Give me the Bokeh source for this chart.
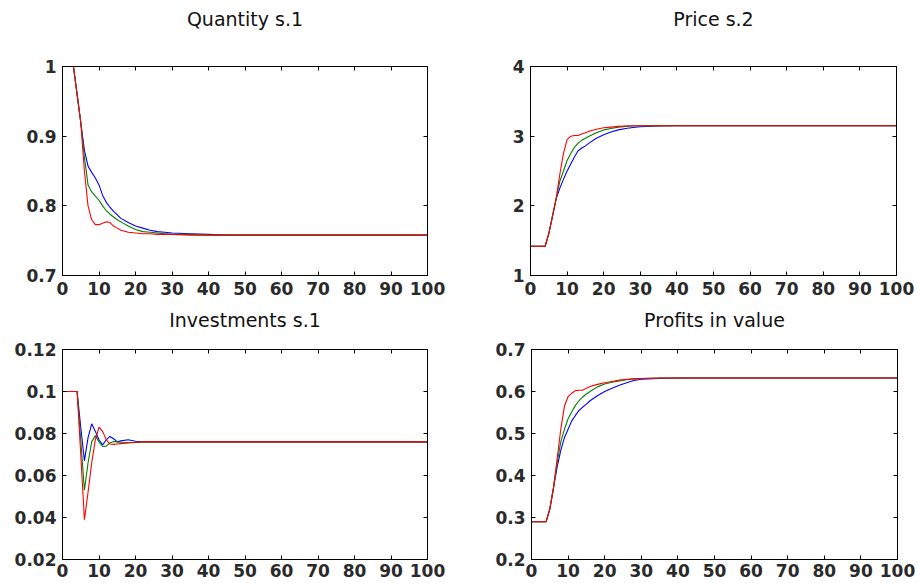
from bokeh.plotting import figure
from bokeh.layouts import column, row
from bokeh.models import Range1d, FixedTicker, LinearAxis
from bokeh.embed import file_html
from bokeh.resources import INLINE

# ---------------- data ----------------
t = [0, 1, 2, 3, 4, 5, 6, 7, 8, 9, 10, 11, 12, 13, 14, 15, 16, 18, 20, 22, 24, 26, 28, 30, 35, 40, 45, 50, 100]

qty_blue = [1, 1, 1, 1, 0.96, 0.92, 0.88, 0.857, 0.848, 0.840, 0.830, 0.815, 0.805, 0.798, 0.792, 0.787, 0.782,
            0.776, 0.771, 0.768, 0.765, 0.763, 0.762, 0.761, 0.760, 0.759, 0.758, 0.758, 0.758]
qty_green = [1, 1, 1, 1, 0.96, 0.92, 0.87, 0.83, 0.82, 0.814, 0.808, 0.800, 0.793, 0.788, 0.784, 0.780, 0.777,
             0.771, 0.766, 0.763, 0.762, 0.761, 0.760, 0.759, 0.759, 0.758, 0.758, 0.758, 0.758]
qty_red = [1, 1, 1, 1, 0.96, 0.92, 0.85, 0.80, 0.78, 0.773, 0.773, 0.775, 0.777, 0.776, 0.771, 0.768, 0.765,
           0.762, 0.761, 0.760, 0.760, 0.759, 0.759, 0.759, 0.758, 0.758, 0.758, 0.758, 0.758]

price_blue = [1.42, 1.42, 1.42, 1.42, 1.42, 1.6, 1.85, 2.1, 2.25, 2.38, 2.5, 2.6, 2.7, 2.79, 2.83, 2.86, 2.9,
              2.97, 3.02, 3.06, 3.09, 3.11, 3.125, 3.135, 3.145, 3.15, 3.15, 3.15, 3.15]
price_green = [1.42, 1.42, 1.42, 1.42, 1.42, 1.6, 1.85, 2.1, 2.35, 2.5, 2.65, 2.75, 2.84, 2.9, 2.94, 2.97, 3.0,
               3.05, 3.09, 3.11, 3.13, 3.14, 3.145, 3.15, 3.15, 3.15, 3.15, 3.15, 3.15]
price_red = [1.42, 1.42, 1.42, 1.42, 1.42, 1.6, 1.85, 2.1, 2.45, 2.75, 2.95, 3.0, 3.01, 3.01, 3.03, 3.05, 3.07,
             3.1, 3.12, 3.13, 3.14, 3.145, 3.15, 3.15, 3.15, 3.15, 3.15, 3.15, 3.15]

inv_blue = [0.1, 0.1, 0.1, 0.1, 0.1, 0.083, 0.067, 0.078, 0.0846, 0.081, 0.077, 0.0746, 0.077, 0.0786, 0.0775,
            0.076, 0.0765, 0.077, 0.0763, 0.076, 0.076, 0.076, 0.076, 0.076, 0.076, 0.076, 0.076, 0.076, 0.076]
inv_green = [0.1, 0.1, 0.1, 0.1, 0.1, 0.077, 0.053, 0.066, 0.076, 0.079, 0.076, 0.0738, 0.074, 0.0755, 0.0762,
             0.076, 0.0758, 0.0757, 0.0757, 0.076, 0.076, 0.076, 0.076, 0.076, 0.076, 0.076, 0.076, 0.076, 0.076]
inv_red = [0.1, 0.1, 0.1, 0.1, 0.1, 0.07, 0.039, 0.052, 0.066, 0.077, 0.083, 0.081, 0.077, 0.075, 0.0748,
           0.075, 0.0752, 0.0755, 0.0757, 0.076, 0.076, 0.076, 0.076, 0.076, 0.076, 0.076, 0.076, 0.076, 0.076]

prof_blue = [0.29, 0.29, 0.29, 0.29, 0.29, 0.32, 0.37, 0.42, 0.46, 0.49, 0.51, 0.53, 0.543, 0.555, 0.563, 0.57,
             0.578, 0.59, 0.60, 0.608, 0.615, 0.621, 0.626, 0.629, 0.631, 0.632, 0.632, 0.632, 0.632]
prof_green = [0.29, 0.29, 0.29, 0.29, 0.29, 0.32, 0.37, 0.43, 0.48, 0.51, 0.535, 0.552, 0.567, 0.578, 0.587, 0.594,
              0.60, 0.611, 0.618, 0.622, 0.625, 0.628, 0.63, 0.631, 0.632, 0.632, 0.632, 0.632, 0.632]
prof_red = [0.29, 0.29, 0.29, 0.29, 0.29, 0.32, 0.37, 0.44, 0.51, 0.565, 0.588, 0.596, 0.602, 0.603, 0.603, 0.608,
            0.612, 0.617, 0.621, 0.624, 0.627, 0.629, 0.63, 0.631, 0.632, 0.632, 0.632, 0.632, 0.632]

x_ticks = [0, 10, 20, 30, 40, 50, 60, 70, 80, 90, 100]
x_labels = ["0", "10", "20", "30", "40", "50", "60", "70", "80", "90", "100"]

qty_ticks = [0.7, 0.8, 0.9, 1.0]
qty_labels = ["0.7", "0.8", "0.9", "1"]
price_ticks = [1, 2, 3, 4]
price_labels = ["1", "2", "3", "4"]
inv_ticks = [0.02, 0.04, 0.06, 0.08, 0.1, 0.12]
inv_labels = ["0.02", "0.04", "0.06", "0.08", "0.1", "0.12"]
prof_ticks = [0.2, 0.3, 0.4, 0.5, 0.6, 0.7]
prof_labels = ["0.2", "0.3", "0.4", "0.5", "0.6", "0.7"]

titles = ["Quantity s.1", "Price s.2", "Investments s.1", "Profits in value"]

COLORS = ["#0000ff", "#008000", "#ff0000"]
FONT = "DejaVu Sans"


def make_panel(title, series, yr, yticks, ylabels, width, height, bl, br, bt, bb, tstand, xstand):
    p = figure(width=width, height=height, output_backend="svg", toolbar_location=None,
               x_range=Range1d(0, 100), y_range=Range1d(*yr),
               min_border_left=bl, min_border_right=br, min_border_top=bt, min_border_bottom=bb)
    p.xgrid.visible = False
    p.ygrid.visible = False
    p.outline_line_color = "black"
    p.outline_line_width = 1
    p.background_fill_color = "white"
    p.border_fill_color = "white"

    for s, c in zip(series, COLORS):
        p.line(t, s, line_color=c, line_width=1.1)

    xt = FixedTicker(ticks=x_ticks)
    yt = FixedTicker(ticks=yticks)
    for ax in p.xaxis:
        ax.ticker = xt
        ax.major_label_overrides = dict(zip(x_ticks, x_labels))
        ax.major_label_standoff = xstand
    for ax in p.yaxis:
        ax.ticker = yt
        ax.major_label_overrides = dict(zip(yticks, ylabels))
        ax.major_label_standoff = 6
    for ax in list(p.xaxis) + list(p.yaxis):
        ax.major_tick_in = 4
        ax.major_tick_out = 0
        ax.minor_tick_line_color = None
        ax.axis_line_color = "black"
        ax.major_tick_line_color = "black"
        ax.major_label_text_font = FONT
        ax.major_label_text_font_size = "17px"
        ax.major_label_text_font_style = "bold"
        ax.major_label_text_color = "#2a2a2a"

    # top axis: inward ticks, no tick labels, panel title as its label
    top = LinearAxis(ticker=xt, major_label_text_font_size="0px", major_label_text_color=None,
                     major_label_standoff=0, major_tick_in=4, major_tick_out=0,
                     minor_tick_line_color=None, axis_line_color="black", major_tick_line_color="black",
                     axis_label=title, axis_label_standoff=tstand, axis_label_text_font=FONT,
                     axis_label_text_font_size="19px", axis_label_text_font_style="normal",
                     axis_label_text_color="#111111")
    right = LinearAxis(ticker=yt, major_label_text_font_size="0px", major_label_text_color=None,
                       major_label_standoff=0, major_tick_in=4, major_tick_out=0,
                       minor_tick_line_color=None, axis_line_color="black", major_tick_line_color="black")
    p.add_layout(top, "above")
    p.add_layout(right, "right")
    return p


p1 = make_panel(titles[0], [qty_blue, qty_green, qty_red], (0.7, 1.0), qty_ticks, qty_labels,
                470, 305, 62, 43, 66, 30, 37, 6)
p2 = make_panel(titles[1], [price_blue, price_green, price_red], (1, 4), price_ticks, price_labels,
                447, 305, 60, 21, 66, 30, 37, 6)
p3 = make_panel(titles[2], [inv_blue, inv_green, inv_red], (0.02, 0.12), inv_ticks, inv_labels,
                470, 278, 62, 43, 44, 24, 19, 4)
p4 = make_panel(titles[3], [prof_blue, prof_green, prof_red], (0.2, 0.7), prof_ticks, prof_labels,
                447, 278, 61, 20, 44, 24, 19, 4)

layout = column(row(p1, p2), row(p3, p4))

open("out.html", "w").write(file_html(layout, INLINE))
